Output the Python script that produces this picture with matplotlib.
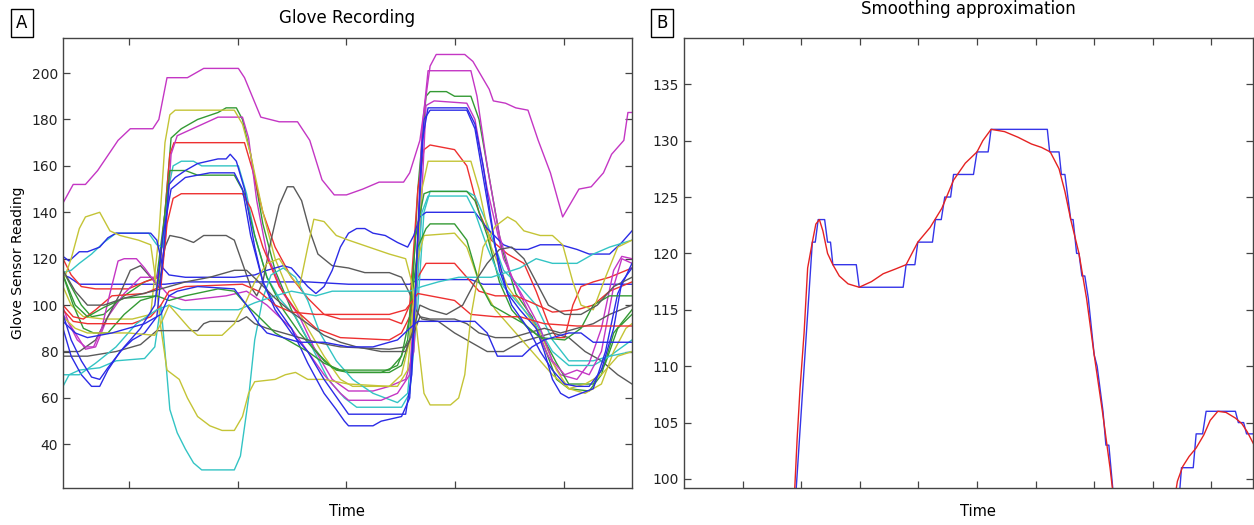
import matplotlib
matplotlib.use("Agg")
import matplotlib.pyplot as plt

plt.rcParams['font.family'] = ['DejaVu Sans']

# ---- Panel A: glove sensor channels, (time, reading) ----
mag_top = [(0,144),(25,152),(55,152),(85,158),(135,171),(165,176),(220,176),(235,180),(255,198),(305,198),
           (345,202),(430,202),(445,198),(485,181),(530,179),(575,179),(605,171),(635,154),(665,147.5),
           (695,147.5),(735,150),(775,153),(835,153),(850,157),(875,171),(900,203),(915,208),(985,208),
           (1005,205),(1045,193),(1055,188),(1085,187),(1110,185),(1140,184),(1165,171),(1195,157),(1225,138),
           (1245,144),(1265,150),(1295,151),(1325,157),(1345,165),(1375,171),(1385,183),(1395,183)]
mag_a = [(0,99),(15,92),(35,85),(55,82),(75,82),(95,90),(115,105),(135,119),(150,120),(180,120),(200,116),
         (225,110),(240,108),(260,104),(300,102),(400,104),(450,106),(500,100),(560,90),(600,80),(640,70),
         (680,62),(700,59),(780,59),(820,62),(850,70),(865,110),(880,175),(895,201),(1000,201),(1015,190),
         (1040,160),(1070,130),(1100,112),(1140,100),(1170,90),(1200,76),(1230,70),(1260,72),(1290,70),
         (1320,80),(1350,108),(1370,120),(1395,118)]
mag_b = [(0,96),(30,88),(55,81),(80,82),(110,95),(150,105),(190,112),(230,112),(250,125),(265,165),(280,173),
         (330,177),(380,181),(440,181),(455,172),(475,145),(500,122),(540,105),(580,95),(620,80),(660,68),
         (700,63),(760,63),(800,65),(840,68),(860,80),(875,130),(890,186),(910,188),(990,187),(1010,180),
         (1040,150),(1080,120),(1120,105),(1160,90),(1190,78),(1220,70),(1260,68),(1290,75),(1320,90),
         (1350,115),(1370,121),(1395,120)]
blue_flat = [(0,113),(15,112),(40,109),(250,109),(300,110),(600,110),(700,109),(850,109),(870,111),
             (1000,111),(1030,109),(1395,109)]
blue_a = [(0,121),(15,119),(40,123),(60,123),(90,125),(110,129),(130,131),(215,131),(230,128),(245,116),
          (260,113),(300,112),(420,112),(470,113),(500,115),(540,117),(560,116),(580,112),(600,108),(620,105),
          (640,108),(660,115),(680,125),(700,131),(720,133),(740,133),(760,131),(790,130),(820,127),(845,125),
          (860,130),(875,138),(890,140),(1010,140),(1040,133),(1080,126),(1110,124),(1140,124),(1170,126),
          (1220,126),(1260,124),(1290,122),(1340,122),(1370,127),(1395,132)]
blue_b = [(0,90),(20,78),(45,70),(70,65),(90,65),(110,72),(140,80),(170,85),(200,88),(230,95),(245,120),
          (260,152),(275,155),(300,158),(330,161),(380,163),(400,163),(410,165),(425,162),(445,150),(470,125),
          (490,110),(520,100),(560,90),(600,75),(640,62),(670,55),(690,50),(700,48),(760,48),(780,50),(830,52),
          (850,60),(865,110),(880,170),(895,185),(990,185),(1010,178),(1030,160),(1060,125),(1090,105),
          (1120,98),(1160,90),(1180,80),(1200,68),(1220,62),(1240,60),(1300,64),(1330,80),(1360,105),(1395,118)]
blue_c = [(0,96),(20,85),(45,76),(70,69),(90,68),(110,73),(150,82),(190,90),(225,100),(245,130),(265,150),
          (300,155),(360,157),(420,157),(440,150),(460,130),(490,110),(520,98),(560,88),(600,80),(640,68),
          (680,58),(700,53),(840,53),(855,70),(870,130),(885,180),(900,184),(990,184),(1010,176),(1040,145),
          (1070,115),(1100,100),(1140,90),(1170,80),(1200,72),(1230,66),(1260,65),(1290,65),(1320,72),
          (1350,90),(1370,110),(1395,116)]
blue_d = [(0,93),(30,88),(60,86),(120,88),(200,92),(240,96),(260,104),(280,106),(330,108),(420,107),(450,100),
          (480,92),(500,88),(540,86),(580,84),(640,84),(700,82),(760,82),(820,85),(850,90),(870,93),(1010,93),
          (1040,88),(1065,78),(1126,78),(1150,82),(1180,85),(1240,88),(1270,88),(1300,84),(1395,84)]
green_a = [(0,115),(20,108),(45,100),(70,95),(100,96),(150,104),(200,110),(230,112),(250,140),(265,172),
           (290,176),(330,180),(380,183),(400,185),(425,185),(440,180),(460,165),(490,135),(520,115),(560,98),
           (600,85),(640,76),(670,72),(700,71),(800,71),(830,74),(850,85),(870,150),(890,190),(900,192),
           (940,192),(960,190),(1000,190),(1020,180),(1045,155),(1075,125),(1110,105),(1150,95),(1180,82),
           (1210,68),(1240,64),(1290,63),(1320,70),(1350,88),(1395,98)]
green_b = [(0,113),(25,100),(50,90),(75,88),(110,88),(150,96),(190,102),(230,104),(250,140),(262,158),
           (300,158),(330,156),(420,156),(445,148),(470,130),(500,112),(540,98),(580,88),(620,80),(660,73),
           (700,71),(780,71),(820,74),(845,85),(865,130),(885,148),(900,149),(990,149),(1010,145),(1040,130),
           (1070,110),(1100,98),(1140,90),(1180,85),(1210,75),(1240,66),(1300,66),(1330,75),(1360,90),(1395,96)]
green_c = [(0,113),(30,100),(60,95),(100,99),(150,103),(230,104),(260,102),(300,104),(380,107),(420,106),
           (450,100),(480,95),(520,88),(560,84),(600,80),(640,75),(680,72),(800,72),(830,78),(850,95),(870,125),
           (890,133),(900,135),(960,135),(990,128),(1020,110),(1050,100),(1090,96),(1130,92),(1170,86),
           (1230,85),(1270,90),(1300,100),(1340,104),(1395,104)]
red_a = [(0,120),(20,113),(45,108),(80,107),(160,107),(200,110),(235,112),(250,140),(262,165),(272,170),
         (445,170),(465,158),(490,140),(520,125),(560,112),(600,103),(640,96),(680,94),(800,94),(830,92),
         (850,100),(870,150),(885,167),(900,169),(960,167),(990,160),(1020,140),(1050,128),(1090,122),
         (1130,118),(1160,106),(1190,92),(1210,86),(1230,86),(1250,100),(1270,108),(1300,110),(1340,112),
         (1395,116)]
red_b = [(0,100),(25,95),(50,94),(80,98),(120,104),(200,105),(240,108),(255,135),(270,146),(290,148),
         (440,148),(460,142),(490,125),(530,108),(570,98),(620,90),(680,86),(800,85),(830,88),(850,95),
         (870,112),(890,118),(960,118),(990,112),(1020,106),(1060,104),(1110,104),(1150,101),(1200,97),
         (1260,98),(1300,100),(1340,106),(1395,110)]
red_c = [(0,98),(25,93),(60,92),(170,92),(215,95),(240,100),(260,106),(300,108),(440,109),(480,106),
         (520,100),(560,97),(620,96),(800,96),(840,98),(870,105),(900,104),(960,102),(1000,96),(1060,95),
         (1120,95),(1180,92),(1260,91),(1395,91)]
cyan_a = [(0,114),(20,115),(40,118),(70,122),(100,127),(130,131),(210,131),(230,126),(245,125),(258,150),
          (270,160),(290,162),(320,162),(340,160),(430,160),(450,148),(470,130),(500,112),(530,103),(570,95),
          (610,82),(650,68),(690,60),(720,56),(830,56),(850,62),(870,100),(885,140),(900,149),(990,149),
          (1010,147),(1040,135),(1080,115),(1120,108),(1160,100),(1200,85),(1240,76),(1300,76),(1340,78),
          (1395,85)]
cyan_b = [(0,65),(15,70),(40,72),(90,73),(130,76),(200,77),(225,82),(240,100),(250,80),(262,55),(280,45),
          (300,38),(320,32),(340,29),(420,29),(435,35),(455,60),(470,85),(490,103),(510,113),(540,116),
          (570,112),(600,102),(630,88),(670,76),(710,68),(760,62),(820,58),(845,62),(865,100),(880,140),
          (895,147),(990,147),(1010,140),(1040,125),(1080,108),(1120,100),(1160,92),(1200,80),(1240,74),
          (1300,74),(1340,78),(1395,80)]
cyan_c = [(0,70),(40,70),(80,75),(130,82),(180,92),(230,98),(260,100),(290,98),(430,98),(470,101),(520,104),
          (560,106),(620,104),(660,106),(850,106),(880,108),(920,110),(970,112),(1050,112),(1120,116),
          (1160,120),(1200,118),(1260,118),(1300,122),(1340,125),(1395,128)]
yellow_a = [(0,108),(20,100),(50,95),(100,94),(170,94),(215,96),(235,130),(250,170),(262,182),(275,184),
            (420,184),(440,178),(460,165),(490,140),(520,120),(560,103),(600,90),(640,78),(680,68),(710,65),
            (820,65),(845,72),(865,110),(880,150),(895,162),(1000,162),(1020,150),(1050,125),(1090,108),
            (1130,98),(1170,88),(1210,72),(1240,64),(1280,62),(1320,66),(1350,80),(1380,90),(1395,92)]
yellow_b = [(0,110),(20,120),(40,133),(55,138),(90,140),(115,132),(140,130),(185,128),(215,126),(228,110),
            (240,90),(255,72),(285,68),(305,60),(330,52),(360,48),(390,46),(420,46),(440,52),(455,62),
            (470,67),(520,68),(545,70),(570,71),(600,68),(640,68),(700,66),(800,65),(830,70),(850,85),
            (870,120),(885,130),(960,131),(990,125),(1020,110),(1060,98),(1100,90),(1150,80),(1200,70),
            (1240,64),(1280,66),(1320,70),(1360,78),(1395,80)]
yellow_c = [(0,95),(30,90),(60,88),(160,88),(225,87),(240,92),(260,100),(280,96),(310,90),(330,87),(390,87),
            (420,92),(445,100),(470,110),(500,118),(530,120),(560,112),(580,108),(600,125),(615,137),(640,136),
            (670,130),(700,128),(750,125),(800,122),(840,120),(855,110),(870,85),(885,62),(900,57),(950,57),
            (970,60),(985,70),(1000,95),(1030,125),(1060,134),(1090,138),(1110,136),(1130,132),(1170,130),
            (1200,130),(1225,126),(1250,110),(1270,100),(1300,98),(1330,112),(1360,125),(1395,128)]
gray_a = [(0,80),(40,80),(80,85),(110,95),(140,105),(165,115),(190,117),(215,112),(235,108),(250,125),
          (262,130),(290,129),(320,127),(345,130),(400,130),(420,128),(440,118),(460,108),(475,104),(490,110),
          (510,128),(530,143),(550,151),(565,151),(585,145),(605,132),(625,122),(660,117),(700,116),(740,114),
          (800,114),(830,112),(850,105),(865,98),(880,94),(920,93),(960,88),(1000,84),(1040,80),(1080,80),
          (1120,84),(1160,86),(1200,88),(1240,86),(1280,80),(1320,76),(1360,70),(1395,66)]
gray_b = [(0,78),(60,78),(130,80),(190,83),(230,89),(330,89),(345,92),(360,93),(430,93),(450,95),(470,92),
          (500,90),(540,88),(580,86),(620,84),(680,82),(800,81),(840,82),(860,88),(875,95),(900,94),(960,94),
          (990,92),(1020,88),(1060,86),(1100,86),(1140,88),(1180,90),(1220,88),(1260,90),(1300,92),(1340,96),
          (1395,100)]
gray_c = [(0,115),(30,106),(60,100),(100,100),(150,103),(220,106),(260,108),(300,110),(360,112),(420,115),
          (450,115),(480,110),(520,103),(560,97),(600,92),(640,87),(680,84),(720,82),(780,80),(840,80),
          (860,90),(875,100),(900,98),(940,96),(980,100),(1010,110),(1040,118),(1070,124),(1100,125),
          (1130,120),(1160,110),(1190,100),(1230,96),(1270,96),(1310,100),(1350,108),(1395,112)]

BLUE, GREEN, RED = '#2b2be6', '#349a34', '#ee3030'
CYAN, MAG, YEL, GRAY = '#33c4c4', '#c436c4', '#c4c436', '#5a5a5a'
channels = [
    (blue_flat, BLUE), (green_a, GREEN), (red_a, RED), (cyan_a, CYAN), (mag_b, MAG), (yellow_a, YEL),
    (gray_a, GRAY), (blue_a, BLUE), (green_b, GREEN), (red_b, RED), (cyan_b, CYAN), (mag_a, MAG),
    (yellow_b, YEL), (gray_b, GRAY), (blue_b, BLUE), (green_c, GREEN), (red_c, RED), (cyan_c, CYAN),
    (yellow_c, YEL), (gray_c, GRAY), (blue_c, BLUE), (blue_d, BLUE), (mag_top, MAG),
]

# ---- Panel B: one channel (blue) and its smoothing approximation (red) ----
step_x = [1.85, 2.19, 2.24, 2.29, 2.40, 2.45, 2.50, 2.54, 2.94, 2.99, 3.74, 3.79, 3.94, 3.99, 4.24, 4.29,
          4.39, 4.45, 4.55, 4.60, 4.94, 5.00, 5.19, 5.24, 6.20, 6.24, 6.40, 6.44, 6.50, 6.60, 6.64, 6.70,
          6.74, 6.79, 6.84, 6.90, 7.00, 7.05, 7.15, 7.20, 7.25, 7.32, 7.40]
step_y = [94, 121, 121, 123, 123, 121, 121, 119, 119, 117, 117, 119, 119, 121, 121, 123,
          123, 125, 125, 127, 127, 129, 129, 131, 131, 129, 129, 127, 127, 123, 123, 120,
          120, 118, 118, 116, 111, 110, 106, 103, 103, 99, 94]
step2_x = [8.40, 8.49, 8.69, 8.74, 8.85, 8.91, 9.41, 9.46, 9.55, 9.60, 9.75]
step2_y = [95, 101, 101, 104, 104, 106, 106, 105, 105, 104, 104]
smooth_x = [1.87, 1.93, 1.98, 2.05, 2.11, 2.19, 2.25, 2.31, 2.37, 2.45, 2.54, 2.65, 2.80, 2.99, 3.20, 3.40,
            3.60, 3.79, 3.99, 4.20, 4.40, 4.60, 4.80, 5.00, 5.10, 5.24, 5.47, 5.70, 5.93, 6.10, 6.25, 6.40,
            6.50, 6.60, 6.74, 6.87, 7.00, 7.14, 7.27, 7.36]
smooth_y = [97, 103.5, 108, 113, 118.7, 121, 122.6, 123, 122, 120, 119, 118, 117.3, 117, 117.5, 118.2,
            118.6, 119, 121, 122.3, 124, 126.5, 128, 129, 130, 131, 130.8, 130.3, 129.7, 129.4, 129, 127.5,
            125.5, 123, 120, 116, 111, 106, 101, 97]
smooth2_x = [8.35, 8.42, 8.51, 8.62, 8.74, 8.87, 8.98, 9.11, 9.25, 9.41, 9.52, 9.61, 9.73]
smooth2_y = [97.5, 99.8, 101.1, 102.0, 102.75, 103.9, 105.2, 106.0, 105.9, 105.4, 104.9, 104.2, 103.0]

W, H = 1254, 525
fig = plt.figure(figsize=(W / 100, H / 100), dpi=100)


def px_axes(left, top, right, bottom):
    return fig.add_axes([left / W, 1 - bottom / H, (right - left) / W, (bottom - top) / H])


def style(ax):
    for s in ax.spines.values():
        s.set_color('#444444')
        s.set_linewidth(1.0)
    ax.tick_params(direction='in', length=5, width=0.9, color='#444444', labelsize=10,
                   top=True, right=True, labelcolor='#222222')
    ax.set_xticklabels([])


axA = px_axes(63, 38, 632, 488)
for series, col in channels:
    axA.plot([p[0] for p in series], [p[1] for p in series], color=col, lw=1.0)
axA.set_xlim(0, 1395)
axA.set_ylim(21.2, 215.1)
axA.set_xticks([163, 429, 695, 962, 1228])
axA.set_yticks(range(40, 201, 20))
style(axA)

axB = px_axes(684, 38, 1253, 488)
axB.plot(step_x, step_y, color='#3535e8', lw=1.0)
axB.plot(step2_x, step2_y, color='#3535e8', lw=1.0)
axB.plot(smooth_x, smooth_y, color='#e52222', lw=1.0)
axB.plot(smooth2_x, smooth2_y, color='#e52222', lw=1.0)
axB.set_xlim(0, 9.71)
axB.set_ylim(99.2, 139.1)
axB.set_xticks(range(1, 10))
axB.set_yticks(range(100, 136, 5))
style(axB)

box = dict(boxstyle='square,pad=0.3', fc='white', ec='black', lw=1.0)
fig.text(22 / W, 1 - 23 / H, 'A', ha='center', va='center', fontsize=12, bbox=box)
fig.text(662 / W, 1 - 23 / H, 'B', ha='center', va='center', fontsize=12, bbox=box)
fig.text(347 / W, 1 - 18 / H, 'Glove Recording', ha='center', va='center', fontsize=12)
fig.text(968 / W, 1 - 9 / H, 'Smoothing approximation', ha='center', va='center', fontsize=12)
fig.text(347 / W, 1 - 512 / H, 'Time', ha='center', va='center', fontsize=10.5)
fig.text(978 / W, 1 - 512 / H, 'Time', ha='center', va='center', fontsize=10.5)
fig.text(18 / W, 1 - 263 / H, 'Glove Sensor Reading', ha='center', va='center', rotation=90, fontsize=10)

fig.savefig('out.png', dpi=100)
